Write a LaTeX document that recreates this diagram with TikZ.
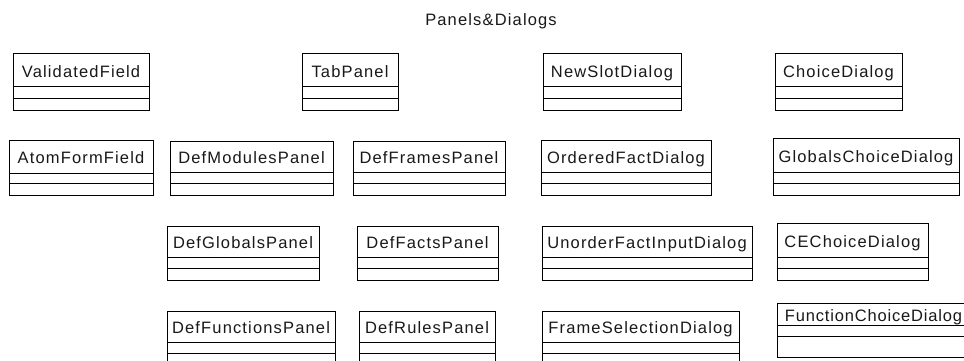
\documentclass[tikz,border=0pt]{standalone}
\usepackage{fontspec}
\setmainfont{Liberation Sans}[LetterSpace=7]
\tikzset{
  classbox/.style={draw=black, line width=1pt, inner sep=0pt, outer sep=0pt, fill=white},
  divider/.style={draw=black, line width=1pt},
  classname/.style={anchor=base, inner sep=0pt, font=\fontsize{16.5}{18}\selectfont, text=black!90},
  titletext/.style={anchor=base, inner sep=0pt, font=\fontsize{16.5}{18}\selectfont, text=black!90}
}
% \umlclass{name}{x1}{y1}{x2}{y2}{first divider y}{second divider y}{label}
\newcommand{\umlclass}[8]{%
  \node[classbox, minimum width=#4-#2, minimum height=#5-#3] (#1) at ({(#2+#4)/2},{(#3+#5)/2}) {};
  \draw[divider] (#2,#6) -- (#4,#6);
  \draw[divider] (#2,#7) -- (#4,#7);
  \node[classname] (#1-label) at ({(#2+#4)/2},{(#3+#6)/2+7}) {#8};
}
\begin{document}
\begin{tikzpicture}[x=1pt, y=-1pt]
  \useasboundingbox (0,0) rectangle (964,361);
  \clip (0,0) rectangle (964,361);
  \fill[white] (0,0) rectangle (964,361);

  \node[titletext] (title) at (491,26) {Panels\&Dialogs};

  % first row
  \umlclass{validated}{13}{54}{149}{110}{87}{98}{ValidatedField}
  \umlclass{tabpanel}{302}{54}{398}{110}{87}{98}{TabPanel}
  \umlclass{newslot}{543}{54}{681}{110}{87}{98}{NewSlotDialog}
  \umlclass{choice}{775}{54}{902}{110}{87}{98}{ChoiceDialog}

  % second row
  \umlclass{atomform}{9}{140}{153}{195}{173}{183}{AtomFormField}
  \umlclass{defmodules}{170}{141}{333}{195}{172}{183}{DefModulesPanel}
  \umlclass{defframes}{353}{141}{505}{195}{172}{183}{DefFramesPanel}
  \umlclass{orderedfact}{541}{140}{711}{195}{172}{183}{OrderedFactDialog}
  \umlclass{globalschoice}{773}{138}{959}{195}{172}{183}{GlobalsChoiceDialog}

  % third row
  \umlclass{defglobals}{167}{226}{319}{280}{257}{268}{DefGlobalsPanel}
  \umlclass{deffacts}{357}{226}{498}{280}{257}{268}{DefFactsPanel}
  \umlclass{unorderfact}{542}{226}{752}{280}{257}{268}{UnorderFactInputDialog}
  \umlclass{cechoice}{777}{223}{928}{280}{257}{268}{CEChoiceDialog}

  % fourth row
  \umlclass{deffunctions}{167}{311}{335}{368}{342}{353}{DefFunctionsPanel}
  \umlclass{defrules}{359}{311}{495}{368}{342}{353}{DefRulesPanel}
  \umlclass{frameselection}{542}{311}{739}{368}{342}{353}{FrameSelectionDialog}
  \umlclass{functionchoice}{777}{303}{970}{357}{325}{336}{{\addfontfeature{LetterSpace=5}FunctionChoiceDialog}}
\end{tikzpicture}
\end{document}
